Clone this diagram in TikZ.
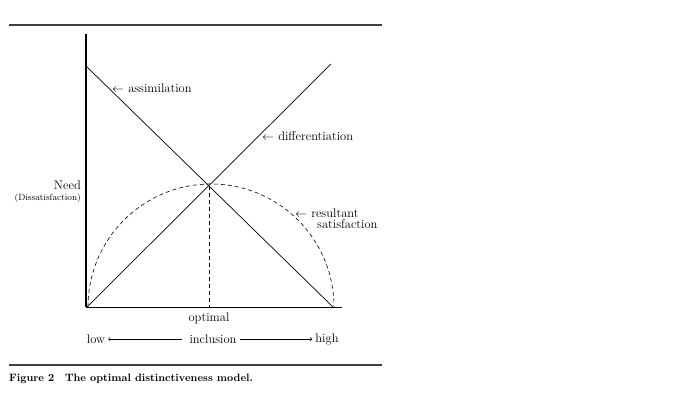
\documentclass[tikz,border=0pt]{standalone}
\usepackage{tikz}
\usepackage{amsmath}

\begin{document}
\begin{tikzpicture}[x=1pt,y=1pt,
  lbl/.style={inner sep=0pt,font=\fontsize{12.5}{14}\selectfont},
  dashline/.style={dash pattern=on 4pt off 3pt,line width=0.6pt},
  rule/.style={line width=1.4pt,black!75}]
\useasboundingbox (0,0) rectangle (680,401);

\coordinate (o) at (86,94);
\coordinate (ytop) at (86,367);
\coordinate (xend) at (342,94);
\coordinate (a1) at (86,335);
\coordinate (a2) at (333,94);
\coordinate (d1) at (87,94);
\coordinate (d2) at (331,337);
\coordinate (m) at (209,215);
\coordinate (mb) at (209,94);
\coordinate (s1) at (88,94);

\draw[rule] (9,376)--(382,376);
\draw[rule] (9,36)--(382,36);

\draw[line width=1.6pt] (ytop)--(o);
\draw[line width=0.9pt] (o)--(xend);
\draw[line width=0.7pt] (a1)--(a2);
\draw[line width=0.7pt] (d1)--(d2);
\draw[dashline] (m)--(mb);
\draw[dashline] (s1) arc[start angle=180,end angle=0,radius=123pt];

\node[lbl,anchor=west] (assim) at (112,313) {$\leftarrow$ assimilation};
\node[lbl,anchor=west] (diff) at (262,265) {$\leftarrow$ differentiation};
\node[lbl,anchor=west] (res) at (295,188) {$\leftarrow$ resultant};
\node[lbl,anchor=west] (sat) at (317,177) {satisfaction};
\node[lbl,anchor=east] (need) at (81,216) {Need};
\node[inner sep=0pt,anchor=east,font=\fontsize{9}{10}\selectfont] (dis) at (81,203) {(Dissatisfaction)};
\node[lbl] (opt) at (209,83) {optimal};
\node[lbl] (low) at (96,62) {low};
\node[lbl] (incl) at (213,62) {inclusion};
\node[lbl] (high) at (327,62) {high};

\draw[->,line width=0.6pt,shorten <=7pt,shorten >=3pt] (incl.west)--(low.east);
\draw[->,line width=0.6pt,shorten <=3pt,shorten >=3pt] (incl.east)--(high.west);

\node[anchor=west,inner sep=0pt,font=\fontsize{10.7}{12}\selectfont\bfseries] (cap) at (9,22) {Figure 2\quad The optimal distinctiveness model.};
\end{tikzpicture}
\end{document}
